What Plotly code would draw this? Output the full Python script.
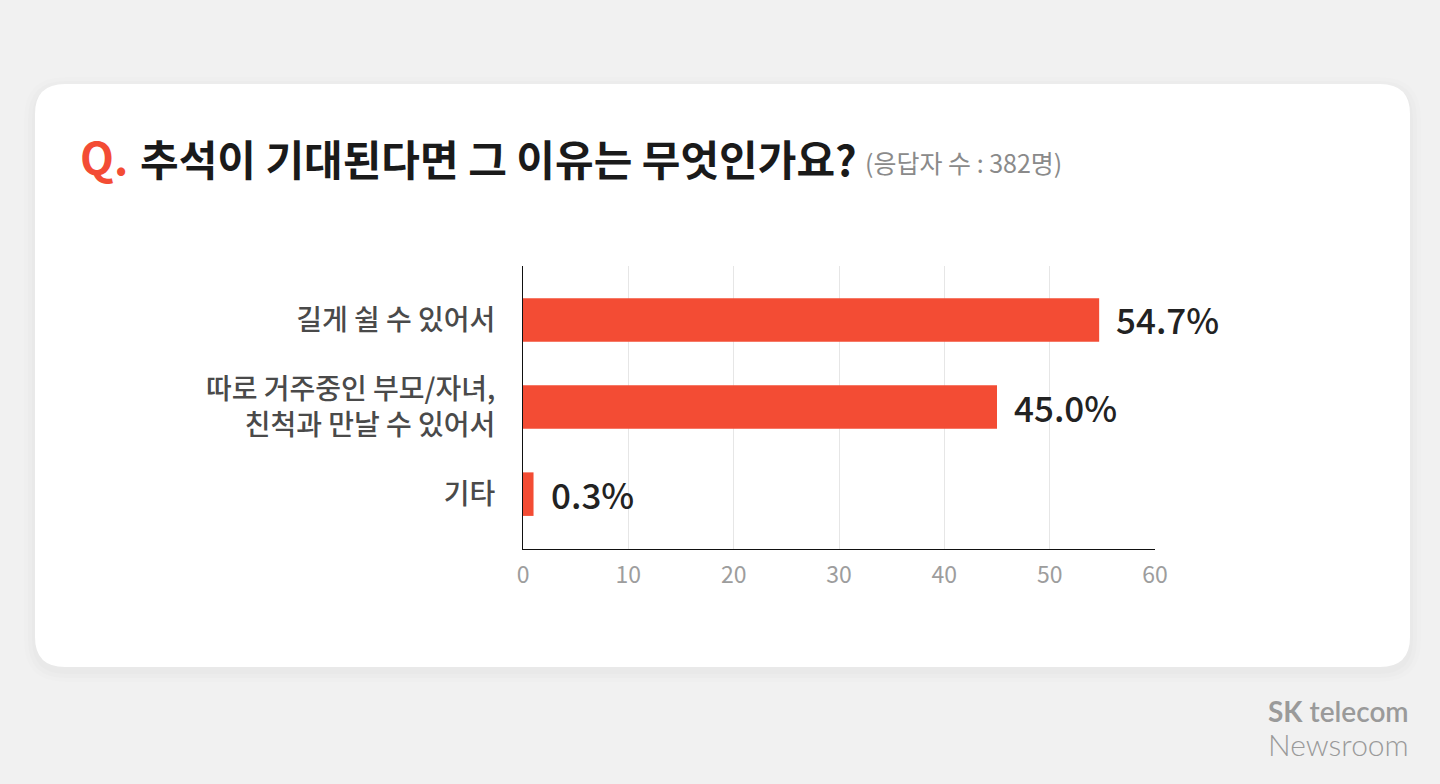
import plotly.graph_objects as go

categories = ["길게 쉴 수 있어서", "따로 거주중인 부모/자녀,<br>친척과 만날 수 있어서", "기타"]
values = [54.7, 45.0, 0.3]
value_labels = ["54.7%", "45.0%", "0.3%"]
x_ticks = [0, 10, 20, 30, 40, 50, 60]

title_q = "Q."
title_text = "추석이 기대된다면 그 이유는 무엇인가요?"
subtitle = "(응답자 수 : 382명)"

W, H = 1440, 784
L, R, T, B = 523, 1155, 266, 549  # plot area in page pixels

# tiny bars still get a visible sliver, like the original
shown = [max(v, 1.0) for v in values]

KR = "Noto Sans CJK KR"
RED = "#F34C34"


def X(px):
    return (px - L) / (R - L)


def Y(py):
    return (B - py) / (B - T)


def rounded(x0, y0, x1, y1, r):
    return (f"M {X(x0 + r)} {Y(y0)} L {X(x1 - r)} {Y(y0)} Q {X(x1)} {Y(y0)} {X(x1)} {Y(y0 + r)} "
            f"L {X(x1)} {Y(y1 - r)} Q {X(x1)} {Y(y1)} {X(x1 - r)} {Y(y1)} "
            f"L {X(x0 + r)} {Y(y1)} Q {X(x0)} {Y(y1)} {X(x0)} {Y(y1 - r)} "
            f"L {X(x0)} {Y(y0 + r)} Q {X(x0)} {Y(y0)} {X(x0 + r)} {Y(y0)} Z")


fig = go.Figure()
fig.add_trace(go.Bar(
    x=shown, y=categories, orientation="h",
    marker=dict(color=RED, line=dict(width=0)),
    width=0.5, hoverinfo="skip",
))

for cat, v, lab in zip(categories, shown, value_labels):
    fig.add_annotation(x=v, y=cat, text=lab, showarrow=False, xanchor="left",
                       xshift=15, yshift=1,
                       font=dict(family=KR, size=35, color="#222222", weight=500))

shapes = []
for i, a in enumerate([0.012, 0.01, 0.008]):
    g = 3 + i * 4
    shapes.append(dict(type="path", xref="paper", yref="paper", layer="below",
                       path=rounded(35 - g, 84 - g + 4, 1410 + g, 667 + g + 4, 30 + g),
                       fillcolor=f"rgba(0,0,0,{a})", line=dict(width=0)))
shapes.append(dict(type="path", xref="paper", yref="paper", layer="below",
                   path=rounded(35, 84, 1410, 667, 30),
                   fillcolor="white", line=dict(width=0)))

fig.add_annotation(xref="paper", yref="paper", x=X(78), y=Y(156), text=title_q,
                   showarrow=False, xanchor="left", yanchor="middle",
                   font=dict(family=KR, size=44, color=RED, weight=700))
fig.add_annotation(xref="paper", yref="paper", x=X(138), y=Y(157), text=title_text,
                   showarrow=False, xanchor="left", yanchor="middle",
                   font=dict(family=KR, size=42, color="#1a1a1a", weight=700))
fig.add_annotation(xref="paper", yref="paper", x=X(863), y=Y(162), text=subtitle,
                   showarrow=False, xanchor="left", yanchor="middle",
                   font=dict(family=KR, size=25, color="#8a8a8a"))

fig.add_annotation(xref="paper", yref="paper", x=X(1411), y=Y(711),
                   text="<b>SK</b> telecom", showarrow=False, xanchor="right", yanchor="middle",
                   font=dict(family="Lato", size=28, color="#9a9a9a", weight=600))
fig.add_annotation(xref="paper", yref="paper", x=X(1411), y=Y(744),
                   text="Newsroom", showarrow=False, xanchor="right", yanchor="middle",
                   font=dict(family="Lato", size=30, color="#9a9a9a", weight=300))

fig.update_layout(
    width=W, height=H,
    margin=dict(l=L, r=W - R, t=T, b=H - B, pad=0),
    paper_bgcolor="#F1F1F1", plot_bgcolor="rgba(0,0,0,0)",
    showlegend=False, shapes=shapes,
    xaxis=dict(range=[0, 60], tickvals=x_ticks, showgrid=True, gridcolor="#E6E6E6",
               gridwidth=1, zeroline=False, showline=True, linecolor="#111111", linewidth=1,
               ticks="", ticklabelstandoff=5,
               tickfont=dict(family=KR, size=23, color="#9d9d9d")),
    yaxis=dict(range=[2.63, -0.62], showgrid=False, zeroline=False, showline=True,
               linecolor="#111111", linewidth=1, ticks="", ticklabelstandoff=21,
               tickfont=dict(family=KR, size=28, color="#4a4a4a", weight=500)),
)

fig.write_html("out.html", config={"displayModeBar": False},
               post_script="document.body.style.margin='0';"
                           "document.body.style.background='#F1F1F1';")
